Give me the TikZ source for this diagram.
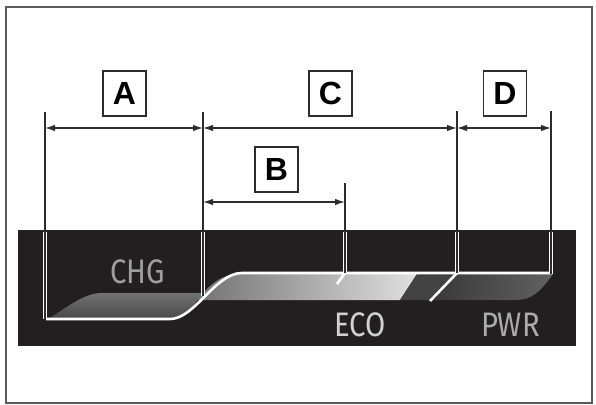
\documentclass[tikz,border=0pt]{standalone}
\usepackage{fontspec}
\setmainfont{Liberation Sans}
\newfontfamily\gaugefont[FakeStretch=0.86]{Fira Sans}
\usetikzlibrary{arrows.meta}
\definecolor{bandblack}{RGB}{35,31,32}
\definecolor{inkgray}{RGB}{45,45,45}
\tikzset{
  letterbox/.style={draw=inkgray, line width=1.6pt, minimum width=43pt, minimum height=45pt,
    inner sep=0pt, font=\fontsize{32}{32}\selectfont\bfseries},
  gaugetext/.style={inner sep=0pt, font=\gaugefont\fontsize{34}{34}\selectfont},
  dimline/.style={draw=inkgray, line width=1.3pt},
  dimarrow/.style={draw=inkgray, line width=1.3pt, {Latex[length=10pt,width=6.5pt]}-{Latex[length=10pt,width=6.5pt]}},
  halo/.style={draw=white, line width=4pt},
  whiteline/.style={draw=white, line width=2.6pt}
}
\begin{document}
\begin{tikzpicture}[x=1pt,y=-1pt]
			%%%%% START %%%%%
			\useasboundingbox (0,0) rectangle (596,404);
			\draw[color=black!65, line width=1.5pt] (6,7) rectangle (592,403);
			
			% display band
			\fill[bandblack] (18,230) rectangle (576,346);
			
			% bar fills
			\shade[top color=black!55, bottom color=black!72]
			  (50,318) .. controls (70,305) and (85,293) .. (102,293) -- (203,293)
			  .. controls (192,308) and (185,319) .. (170,319) -- cycle;
			\shade[left color=black!55, right color=black!12]
			  (197,300) .. controls (212,282) and (222,274) .. (242,274) -- (417,274) -- (400,300) -- cycle;
			\fill[black!74] (417,274) -- (457,274) -- (430,300) -- (400,300) -- cycle;
			\shade[left color=black!78, right color=black!62]
			  (457,274) -- (553,274) .. controls (540,292) and (532,300) .. (515,300) -- (430,300) -- cycle;
			
			% gauge outline
			\draw[whiteline] (46,319) -- (170,319) .. controls (195,319) and (215,273) .. (242,273) -- (552,273);
			
			% measuring lines
			\coordinate (l1) at (45,112);
			\coordinate (l2) at (203,112);
			\coordinate (l3) at (457,111);
			\coordinate (l4) at (551,111);
			\coordinate (lb) at (345,183);
			\coordinate (l1e) at (45,319);
			\coordinate (l2e) at (203,296);
			\coordinate (l3e) at (457,273);
			\coordinate (l4e) at (551,274);
			\coordinate (lbe) at (345,273);
			\coordinate (rowtop) at (0,128);
			\coordinate (rowb) at (0,202);
			\coordinate (bandtop) at (0,232);
			
			\foreach \l in {l1,l2,l3,l4,lb}
			  \draw[halo] (\l |- bandtop) -- (\l e);
			\draw[whiteline] (lbe) -- (337,284);
			\draw[whiteline] (l3e) -- (430,301);
			\foreach \l in {l1,l2,l3,l4,lb}
			  \draw[dimline] (\l) -- (\l e);
			
			\draw[dimarrow] (l1 |- rowtop) -- (l2 |- rowtop);
			\draw[dimarrow] (l2 |- rowtop) -- (l3 |- rowtop);
			\draw[dimarrow] (l3 |- rowtop) -- (l4 |- rowtop);
			\draw[dimarrow] (l2 |- rowb) -- (lb |- rowb);
			
			\node[letterbox] (boxA) at (124.5,93.5) {A};
			\node[letterbox] (boxC) at (330.5,93.5) {C};
			\node[letterbox] (boxD) at (505,93.5) {D};
			\node[letterbox] (boxB) at (276.5,169.5) {B};
			
			\node[gaugetext, text=black!38] (chg) at (137.5,271.5) {CHG};
			\node[gaugetext, text=black!18] (eco) at (360,325) {ECO};
			\node[gaugetext, text=black!33] (pwr) at (510.5,325) {PWR};
			%%%%% END %%%%%
\end{tikzpicture}
\end{document}
